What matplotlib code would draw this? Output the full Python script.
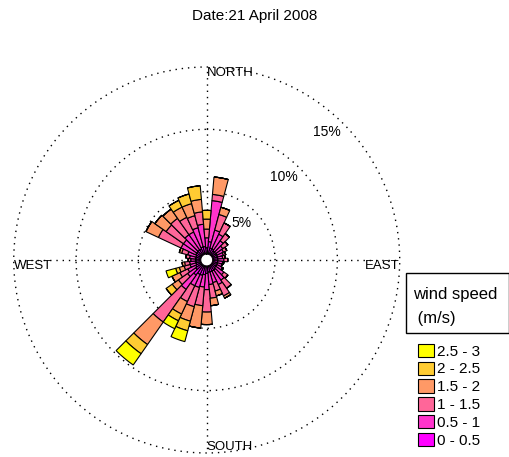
#!/usr/bin/env python3

import numpy as np
from matplotlib import pyplot as plt
from matplotlib.patches import Patch, Rectangle

plt.rcParams['font.family'] = ['Liberation Sans', 'DejaVu Sans']

# Direction of each sector (degrees clockwise from north)
directions = list(range(0, 360, 10))

# Frequency (%) of each speed class per direction
f_0_05 = [0.5, 1.0, 0.5, 0.5, 0.4, 0.4, 0.4, 0.4, 0.4, 0.4, 0.4, 0.4,
          0.4, 0.4, 0.5, 0.5, 0.5, 0.5, 0.6, 0.7, 0.8, 0.8, 1.0, 0.6,
          0.5, 0.4, 0.4, 0.4, 0.4, 0.4, 0.5, 0.5, 0.5, 0.5, 0.6, 0.6]
f_05_1 = [0.8, 3.3, 1.5, 1.3, 1.0, 0.7, 0.6, 0.5, 0.4, 0.5, 0.4, 0.4,
          0.5, 0.8, 1.0, 1.2, 0.9, 1.0, 1.3, 1.0, 1.0, 1.0, 1.4, 0.8,
          0.7, 0.5, 0.5, 0.4, 0.5, 0.7, 1.3, 1.3, 1.5, 1.5, 1.6, 1.8]
f_1_15 = [0.7, 0.5, 1.3, 1.0, 0.7, 0.5, 0.3, 0.2, 0.2, 0.3, 0.1, 0.0,
          0.1, 0.4, 0.8, 1.0, 0.7, 1.1, 1.8, 1.5, 1.6, 1.4, 3.2, 0.9,
          0.7, 0.5, 0.4, 0.2, 0.3, 0.5, 2.0, 1.7, 1.6, 1.3, 1.0, 1.0]
f_15_2 = [0.8, 1.4, 0.6, 0.0, 0.0, 0.0, 0.0, 0.0, 0.0, 0.0, 0.0, 0.0,
          0.0, 0.0, 0.0, 0.2, 0.4, 0.6, 1.0, 1.8, 1.2, 1.1, 2.2, 0.6,
          0.7, 0.4, 0.2, 0.0, 0.0, 0.2, 1.1, 1.1, 0.9, 0.9, 1.0, 1.0]
f_2_25 = [0.7, 0.0, 0.0, 0.0, 0.0, 0.0, 0.0, 0.0, 0.0, 0.0, 0.0, 0.0,
          0.0, 0.0, 0.0, 0.0, 0.0, 0.0, 0.0, 0.0, 0.8, 0.6, 0.9, 0.6,
          0.0, 0.3, 0.0, 0.0, 0.0, 0.0, 0.0, 0.0, 0.0, 0.6, 0.8, 1.1]
f_25_3 = [0.0, 0.0, 0.0, 0.0, 0.0, 0.0, 0.0, 0.0, 0.0, 0.0, 0.0, 0.0,
          0.0, 0.0, 0.0, 0.0, 0.0, 0.0, 0.0, 0.0, 0.9, 0.7, 1.1, 0.0,
          0.0, 0.8, 0.0, 0.0, 0.0, 0.0, 0.0, 0.0, 0.0, 0.0, 0.0, 0.0]

speed_labels = ['0 - 0.5', '0.5 - 1', '1 - 1.5', '1.5 - 2', '2 - 2.5', '2.5 - 3']
rings = [5, 10, 15]

classes = [f_0_05, f_05_1, f_1_15, f_15_2, f_2_25, f_25_3]
colors = plt.cm.spring(np.linspace(0, 1, len(classes)))

fig = plt.figure(figsize=(5.10, 4.57), dpi=100)
ax = fig.add_axes([0.0269, 0.0088, 0.7569, 0.8446], projection='polar')
ax.set_theta_zero_location('N')
ax.set_theta_direction(-1)
ax.set_rorigin(-0.48)
ax.set_ylim(0, 15)

theta = np.deg2rad(directions)
width = np.deg2rad(10)
bottom = np.zeros(len(directions))
for freq, col in zip(classes, colors):
    freq = np.array(freq)
    ax.bar(theta, freq, width=width, bottom=bottom, color=col,
           edgecolor='k', linewidth=0.8, zorder=3)
    bottom += freq

# Dotted rings and cross
ax.set_rgrids(rings, labels=[])
ax.set_thetagrids([0, 90, 180, 270], labels=[])
ax.grid(True, color='k', linestyle=(0, (1, 3.5)), linewidth=1.0)
for line in ax.yaxis.get_gridlines():
    line.set_clip_on(False)
ax.spines['polar'].set_visible(False)

for r in rings:
    ax.text(np.deg2rad(43), r - 1.4, f"{r}%", ha='center', va='center',
            fontsize=10, zorder=4)

ax.text(0, 15, 'NORTH', ha='left', va='top', fontsize=9.5)
ax.text(np.pi, 15, 'SOUTH', ha='left', va='bottom', fontsize=9.5)
ax.text(np.pi / 2, 15, 'EAST', ha='right', va='top', fontsize=9.5)
ax.text(3 * np.pi / 2, 15, 'WEST', ha='left', va='top', fontsize=9.5)

fig.text(0.5, 0.966, 'Date:21 April 2008', ha='center', va='center',
         fontsize=11)

# Legend: framed title box with the colour keys underneath
W, H = 510, 457
fig.add_artist(Rectangle((406 / W, 1 - 333 / H), 103 / W, 60 / H,
                         transform=fig.transFigure, fill=False,
                         ec='k', lw=1))
fig.text(413 / W, 1 - 294 / H, 'wind speed', ha='left', va='center',
         fontsize=12)
fig.text(413 / W, 1 - 318 / H, ' (m/s)', ha='left', va='center',
         fontsize=12)
handles = [Patch(facecolor=c, edgecolor='k', linewidth=0.8) for c in colors]
fig.legend(handles[::-1], speed_labels[::-1], loc='upper left',
           bbox_to_anchor=(0.819, 0.248), frameon=False, fontsize=11,
           handlelength=1.1, handleheight=0.95, handletextpad=0.15,
           labelspacing=0.2, borderaxespad=0, borderpad=0)

fig.savefig('out.png', dpi=100)
